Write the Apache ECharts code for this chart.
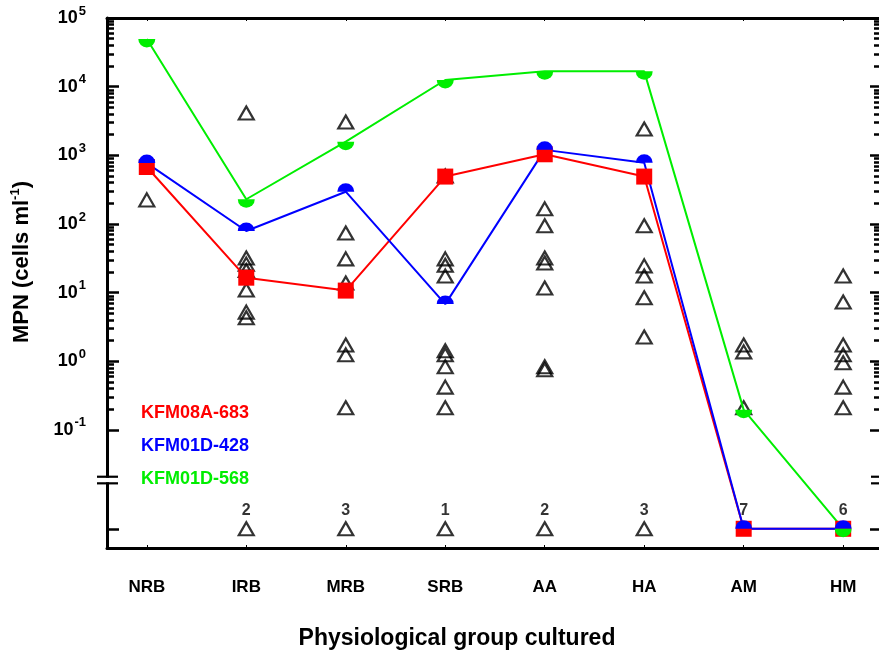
<!DOCTYPE html>
<html>
<head>
<meta charset="utf-8">
<script src="https://cdn.jsdelivr.net/npm/echarts@6/dist/echarts.min.js"></script>
<style>
  html, body { margin: 0; padding: 0; background: #fff; }
  #chart { width: 879px; height: 652px; }
</style>
</head>
<body>
<div id="chart"></div>
<script>
// ---------- data (MPN, cells per ml; 0 = below detection) ----------
const categories = ['NRB', 'IRB', 'MRB', 'SRB', 'AA', 'HA', 'AM', 'HM'];
const seriesNames = ['KFM08A-683', 'KFM01D-428', 'KFM01D-568'];
const kfm08a683 = [676, 16.5, 10.7, 490, 1035, 490, 0, 0];
const kfm01d428 = [770, 79, 295, 6.8, 1200, 780, 0, 0];
const kfm01d568 = [49400, 229, 1580, 12500, 16700, 16700, 0.196, 0];

// other boreholes (open triangles), per physiological group
const samplesNRB = [224];
const samplesIRB = [4140, 32, 26, 21, 10.9, 5.2, 4.3, 0];
const samplesMRB = [3060, 74, 31, 13.8, 1.73, 1.24, 0.21, 0];
const samplesSRB = [500, 31, 25, 17.5, 1.42, 1.24, 0.83, 0.42, 0.21, 0];
const samplesAA  = [166, 94, 32, 27, 11.7, 0.83, 0.75, 0];
const samplesHA  = [2420, 94, 24.5, 17.5, 8.4, 2.26, 0];
const samplesAM  = [1.73, 1.37, 0.21];
const samplesHM  = [17.5, 7.3, 1.73, 1.24, 0.95, 0.42, 0.21];
const belowDetectionCounts = [0, 2, 3, 1, 2, 3, 7, 6];

// tick labels (exponents of ten)
const decades = [-1, 0, 1, 2, 3, 4, 5];

// ---------- scale helpers ----------
const ZERO_LEVEL = -2.44;   // position of "below detection" row
const BREAK_LEVEL = -1.73;  // axis break
const Y_MIN = -2.72, Y_MAX = 5;
const X_MIN = -0.4, X_MAX = 7.36;
const FONT = "'Liberation Sans', Arial, Helvetica, sans-serif";

const yT = v => (v > 0 ? Math.log10(v) : ZERO_LEVEL);

const majorTicks = decades.concat([ZERO_LEVEL]);
const minorTicks = [];
for (let d = -1; d < 5; d++) {
  for (let k = 2; k <= 9; k++) minorTicks.push(d + Math.log10(k));
}
const catIdx = categories.map((c, i) => i);

const allSamples = [samplesNRB, samplesIRB, samplesMRB, samplesSRB, samplesAA, samplesHA, samplesAM, samplesHM];
const triangleData = [];
allSamples.forEach((arr, i) => arr.forEach(v => triangleData.push([i, yT(v)])));

const countData = [];
belowDetectionCounts.forEach((n, i) => { if (n > 0) countData.push([i, ZERO_LEVEL, n]); });

const toLine = arr => arr.map((v, i) => [i, yT(v)]);

const upperHalf = 'path://M0,10 A10,10 0 0 1 20,10 Z';
const lowerHalf = 'path://M0,0 L20,0 A10,10 0 0 1 0,0 Z';

const chart = echarts.init(document.getElementById('chart'), null, { renderer: 'canvas' });

const yBase = {
  type: 'value', min: Y_MIN, max: Y_MAX, gridIndex: 0,
  splitLine: { show: false },
  axisLine: { show: false, onZero: false },
  axisLabel: { show: false }
};

const option = {
  animation: false,
  backgroundColor: '#fff',
  grid: { left: 107, right: 0, top: 18, bottom: 104, outerBoundsMode: 'none', containLabel: false },
  legend: {
    orient: 'vertical', left: 136, top: 403, padding: 0,
    itemGap: 13, itemWidth: 0, itemHeight: 0, icon: 'rect',
    selectedMode: false,
    textStyle: { fontSize: 18, fontWeight: 'bold', lineHeight: 20, fontFamily: FONT },
    data: [
      { name: seriesNames[0], textStyle: { color: '#ff0000' } },
      { name: seriesNames[1], textStyle: { color: '#0000ff' } },
      { name: seriesNames[2], textStyle: { color: '#00ee00' } }
    ]
  },
  xAxis: [
    {
      type: 'value', min: X_MIN, max: X_MAX, position: 'bottom',
      splitLine: { show: false },
      axisLine: { onZero: false, lineStyle: { color: '#000', width: 3 } },
      axisTick: { show: true, inside: true, length: 3, customValues: catIdx, lineStyle: { color: '#000', width: 1 } },
      axisLabel: {
        customValues: catIdx, margin: 31,
        formatter: v => categories[Math.round(v)],
        fontSize: 17, fontWeight: 'bold', color: '#000', fontFamily: FONT
      }
    },
    {
      type: 'value', min: X_MIN, max: X_MAX, position: 'top',
      splitLine: { show: false },
      axisLine: { onZero: false, lineStyle: { color: '#000', width: 3 } },
      axisTick: { show: true, inside: true, length: 3, customValues: catIdx, lineStyle: { color: '#000', width: 1 } },
      axisLabel: { show: false }
    }
  ],
  yAxis: [
    Object.assign({}, yBase, {
      position: 'left',
      axisLine: { show: true, onZero: false, lineStyle: { color: '#000', width: 3 } },
      axisTick: { show: true, inside: true, length: 12, customValues: majorTicks, lineStyle: { color: '#000', width: 2.5 } },
      axisLabel: {
        show: true, customValues: decades, margin: 21,
        formatter: v => '{b|10}{s|' + Math.round(v) + '}',
        rich: {
          b: { fontSize: 18, fontWeight: 'bold', color: '#000', fontFamily: FONT },
          s: { fontSize: 13, fontWeight: 'bold', color: '#000', fontFamily: FONT, padding: [0, 0, 14, 1] }
        }
      }
    }),
    Object.assign({}, yBase, {
      position: 'left',
      axisTick: { show: true, inside: true, length: 7, customValues: minorTicks, lineStyle: { color: '#000', width: 2.5 } }
    }),
    Object.assign({}, yBase, {
      position: 'right',
      axisTick: { show: true, inside: true, length: 9, customValues: majorTicks, lineStyle: { color: '#000', width: 2.5 } }
    }),
    Object.assign({}, yBase, {
      position: 'right',
      axisTick: { show: true, inside: true, length: 5, customValues: minorTicks, lineStyle: { color: '#000', width: 2.5 } }
    })
  ],
  graphic: [
    {
      type: 'text', x: 22, y: 262, rotation: Math.PI / 2, silent: true,
      style: {
        text: '{a|MPN (cells ml}{s|-1}{a|)}',
        align: 'center', verticalAlign: 'middle', fill: '#000',
        rich: {
          a: { fontSize: 22, fontWeight: 'bold', fontFamily: FONT, fill: '#000' },
          s: { fontSize: 13, fontWeight: 'bold', fontFamily: FONT, fill: '#000', padding: [0, 0, 14, 0] }
        }
      }
    },
    {
      type: 'text', x: 457, y: 639, silent: true,
      style: {
        text: 'Physiological group cultured',
        align: 'center', verticalAlign: 'middle', fill: '#000',
        font: 'bold 23px ' + FONT
      }
    }
  ],
  series: [
    {
      name: 'other samples', type: 'scatter', z: 1, silent: true,
      symbol: 'triangle', symbolSize: [15, 13],
      itemStyle: { color: 'rgba(0,0,0,0)', borderColor: '#000', borderWidth: 2.2 },
      data: triangleData
    },
    {
      name: 'below detection', type: 'scatter', z: 5, silent: true,
      symbolSize: 1, itemStyle: { color: 'rgba(0,0,0,0)' },
      label: {
        show: true, position: 'top', distance: 10,
        formatter: p => String(p.value[2]),
        fontSize: 16, fontWeight: 'bold', color: '#000', fontFamily: FONT
      },
      data: countData
    },
    {
      name: seriesNames[0], type: 'line', z: 2, silent: true,
      data: toLine(kfm08a683), showAllSymbol: true,
      symbol: 'rect', symbolSize: 16,
      lineStyle: { color: '#ff0000', width: 2 },
      itemStyle: { color: '#ff0000', borderWidth: 0 }
    },
    {
      name: seriesNames[1], type: 'line', z: 2, silent: true,
      data: toLine(kfm01d428), showAllSymbol: true,
      symbol: upperHalf, symbolSize: [17, 8.5], symbolOffset: [0, -4.25],
      lineStyle: { color: '#0000ff', width: 2 },
      itemStyle: { color: '#0000ff', borderWidth: 0 }
    },
    {
      name: seriesNames[2], type: 'line', z: 2, silent: true,
      data: toLine(kfm01d568), showAllSymbol: true,
      symbol: lowerHalf, symbolSize: [17, 8.5], symbolOffset: [0, 4.25],
      lineStyle: { color: '#00ee00', width: 2 },
      itemStyle: { color: '#00ee00', borderWidth: 0 }
    },
    {
      name: 'axis break', type: 'custom', z: 10, silent: true, clip: false,
      data: [[X_MIN, BREAK_LEVEL]],
      renderItem: function (params, api) {
        const pL = api.coord([X_MIN, BREAK_LEVEL]);
        const pR = api.coord([X_MAX, BREAK_LEVEL]);
        const g = 3.3;
        const st = { stroke: '#000', lineWidth: 2.2 };
        return {
          type: 'group',
          children: [
            { type: 'rect', shape: { x: pL[0] - 3, y: pL[1] - g + 1, width: 6, height: 2 * g - 2 }, style: { fill: '#fff' } },
            { type: 'line', shape: { x1: pL[0] - 10, y1: pL[1] - g, x2: pL[0] + 11, y2: pL[1] - g }, style: st },
            { type: 'line', shape: { x1: pL[0] - 10, y1: pL[1] + g, x2: pL[0] + 11, y2: pL[1] + g }, style: st },
            { type: 'line', shape: { x1: pR[0] - 8, y1: pR[1] - g, x2: pR[0] + 2, y2: pR[1] - g }, style: st },
            { type: 'line', shape: { x1: pR[0] - 8, y1: pR[1] + g, x2: pR[0] + 2, y2: pR[1] + g }, style: st }
          ]
        };
      }
    }
  ]
};

chart.setOption(option);
</script>
</body>
</html>
